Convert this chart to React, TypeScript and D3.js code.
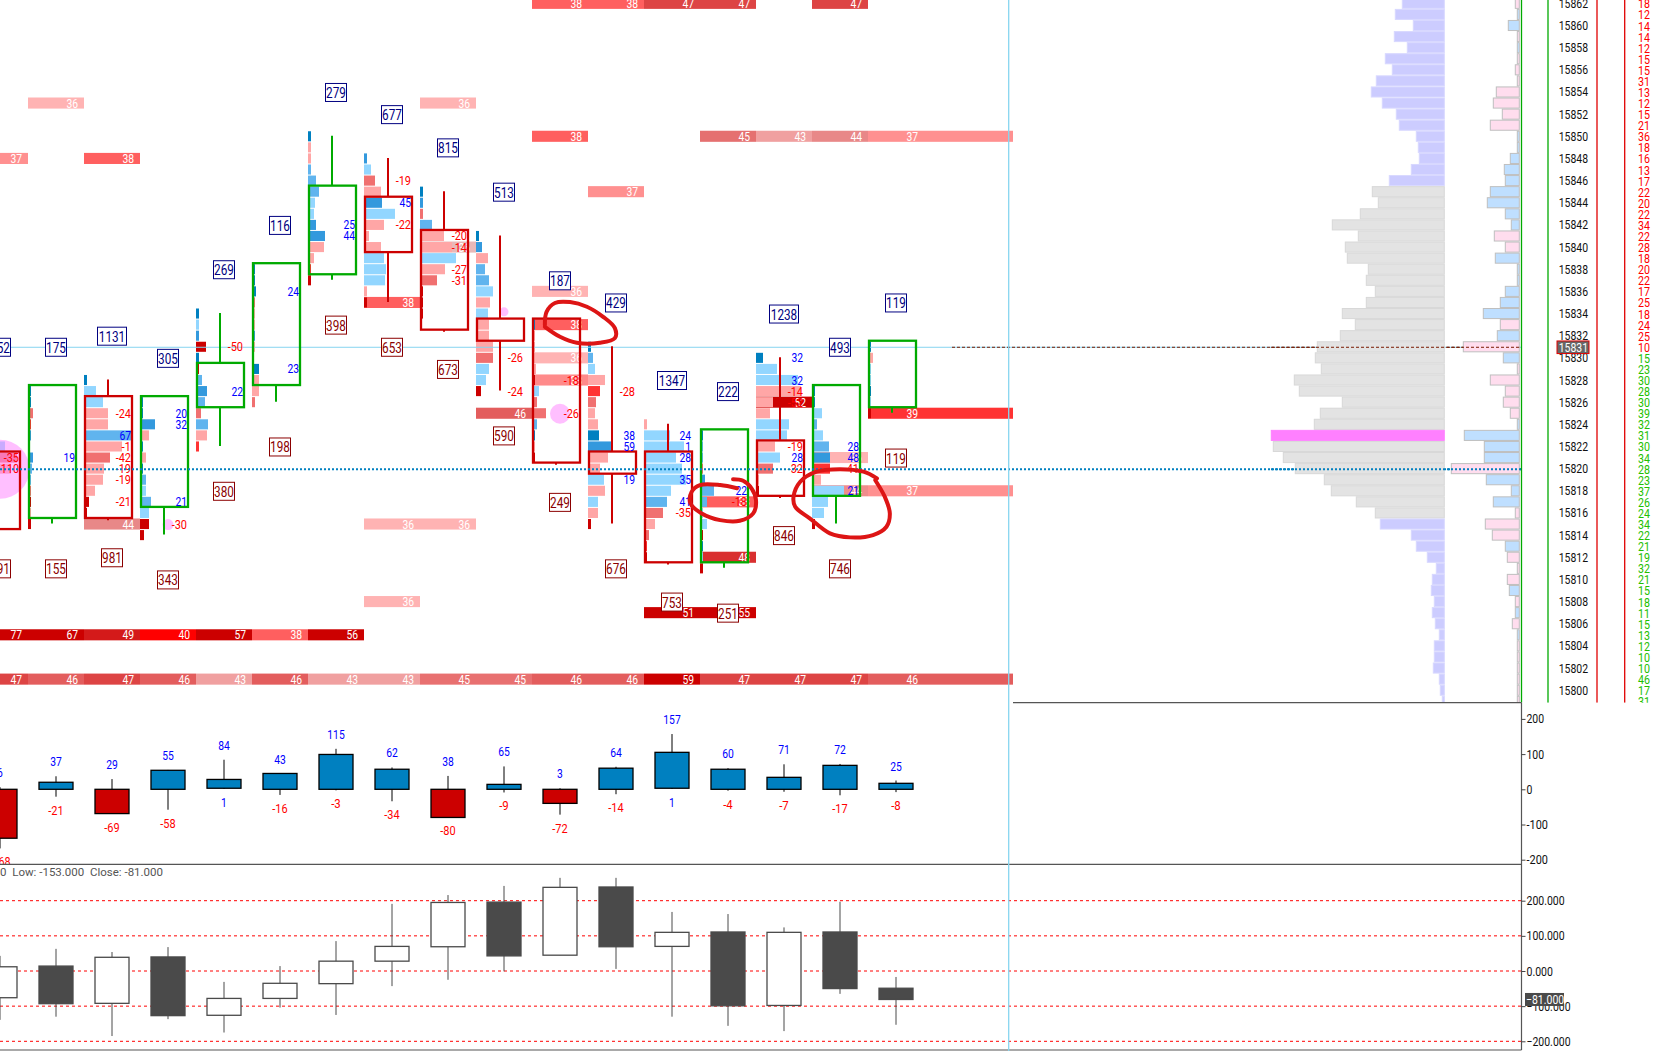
import React, { useEffect, useRef } from "react";
import * as d3 from "d3";

const FONT = "Roboto, sans-serif";

// footprint: one list per column, rows run downwards from fpTop
const fpTop = [15822, 15827, 15828, 15826, 15834, 15838, 15850, 15848, 15845, 15841, 15833, 15831, 15824, 15823, 15830, 15827, 15831];
const fpVol = [
  [33, 45, 39],
  [3, 3, 5, 3, 3, 2, 5, 4, 3, 3, 3, 3, 3],
  [3, 12, 19, 24, 24, 47, 38, 26, 20, 19, 11, 5, 3],
  [3, 3, 15, 9, 3, 6, 3, 6, 6, 11, 9, 9, 4],
  [3, 3, 3, 10, 3, 3, 6, 11, 9, 5, 12, 11, 3],
  [3, 3, 4, 3, 3, 3, 3, 3, 2, 7, 7, 7, 3],
  [3, 3, 3, 3, 8, 11, 7, 6, 8, 17, 16, 6, 3, 3],
  [3, 7, 11, 17, 18, 31, 20, 5, 17, 20, 22, 21, 3, 3],
  [3, 3, 3, 12, 24, 32, 36, 25, 17, 3, 3, 3, 2],
  [3, 6, 12, 9, 13, 17, 14, 12, 13, 13, 17, 17, 13, 10, 5],
  [3, 3, 3, 3, 4, 3, 7, 5, 14, 5, 3, 3, 3],
  [3, 5, 7, 17, 12, 8, 7, 10, 11, 23, 20, 12, 16, 17, 10, 10, 3],
  [3, 26, 40, 32, 38, 42, 27, 23, 19, 11, 5, 3, 3],
  [3, 3, 3, 3, 5, 14, 7, 3, 7, 3, 3, 3, 3],
  [7, 21, 42, 45, 17, 14, 33, 31, 19, 24, 17, 3, 3],
  [3, 3, 10, 5, 11, 17, 18, 18, 9, 32, 16, 12, 3],
  [3, 5, 3, 3, 3, 3, 3],
];
const fpShade = [
  "lro",
  "ddrhmlmkkrpop",
  "dllookorooopp",
  "ddmododklklpp",
  "dlmpdpkmkrkoh",
  "dddroomoldoor",
  "dookkkllmmoohp",
  "mlromlooolllop",
  "dmrkoolorpppp",
  "dmokklolooorllp",
  "dooooplrrkdop",
  "dklohroodmoololop",
  "ollllllkrorhp",
  "dkkrmkkllpdlp",
  "dllooollolrop",
  "ddlklkmholllp",
  "dolldlp",
];
const shades: Record<string, string> = {
  d: "#0080c0", m: "#3399dd", k: "#60b4ee", l: "#92d6ff",
  p: "#cc0000", h: "#ff3333", r: "#f07070", o: "#ffa6a6",
};

// candles over the footprint
const candleCols = [0, 1, 2, 3, 4, 5, 6, 7, 8, 9, 10, 11, 12, 13, 14, 15, 16];
const bodyTop = [15821.5, 15827.5, 15826.5, 15826.5, 15829.5, 15838.5, 15845.5, 15844.5, 15841.5, 15833.5, 15833.5, 15821.5, 15821.5, 15823.5, 15822.5, 15827.5, 15831.5];
const bodyBottom = [15814.5, 15815.5, 15815.5, 15816.5, 15825.5, 15827.5, 15837.5, 15839.5, 15832.5, 15831.5, 15820.5, 15819.5, 15811.5, 15811.5, 15817.5, 15817.5, 15825.5];
const wickHigh = [15821.5, 15827.5, 15828, 15826.5, 15834, 15838.5, 15850, 15848, 15845, 15841, 15833.5, 15831, 15824, 15823.5, 15830, 15827.5, 15831.5];
const wickLow = [15814.5, 15815, 15815.3, 15814, 15822, 15826, 15837, 15835, 15832.3, 15827, 15820.3, 15815, 15811.3, 15811, 15817.3, 15815, 15825];
const candleUp = [false, true, false, true, true, true, true, false, false, false, false, false, false, true, false, true, true];

// level bars: column, price, value, colour
const heatBars: [number, number, string, string][] = [
  [1, 15853, "36", "#ffb3b3"], [8, 15853, "36", "#ffb3b3"],
  [0, 15848, "37", "#ff9090"], [2, 15848, "38", "#ff5f5f"],
  [10, 15862, "38", "#ff5f5f"], [11, 15862, "38", "#ff5f5f"], [12, 15862, "47", "#dd4444"], [13, 15862, "47", "#dd4444"], [15, 15862, "47", "#dd4444"],
  [10, 15850, "38", "#ff5f5f"], [13, 15850, "45", "#e57070"], [14, 15850, "43", "#f0a0a0"], [15, 15850, "44", "#e88888"], [16, 15850, "37", "#ff9090"],
  [11, 15845, "37", "#ff9090"], [8, 15840, "36", "#e8b8b8"], [10, 15836, "36", "#ffb3b3"],
  [7, 15835, "38", "#ff5f5f"], [10, 15833, "38", "#ff5f5f"], [10, 15830, "36", "#ffb3b3"], [10, 15828, "38", "#ff8a8a"],
  [14, 15826, "52", "#cc0000"], [9, 15825, "46", "#e35d5d"], [16, 15825, "39", "#ff3333"],
  [15, 15821, "36", "#ffb3b3"], [13, 15817, "38", "#ff5f5f"], [15, 15818, "44", "#ef8c8c"], [16, 15818, "37", "#ff9090"],
  [2, 15815, "44", "#e88888"], [7, 15815, "36", "#ffb3b3"], [8, 15815, "36", "#ffb3b3"],
  [13, 15812, "48", "#d93030"], [7, 15808, "36", "#ffb3b3"],
  [12, 15807, "51", "#cc0000"], [13, 15807, "55", "#cc0000"],
  [0, 15805, "77", "#cc0000"], [1, 15805, "67", "#cc0000"], [2, 15805, "49", "#d41a1a"], [3, 15805, "40", "#ff0000"], [4, 15805, "57", "#cc0000"], [5, 15805, "38", "#ff5f5f"], [6, 15805, "56", "#cc0000"],
  [0, 15801, "47", "#dd4444"], [1, 15801, "46", "#e35d5d"], [2, 15801, "47", "#dd4444"], [3, 15801, "46", "#e35d5d"], [4, 15801, "43", "#f0a0a0"], [5, 15801, "46", "#e35d5d"], [6, 15801, "43", "#f0a0a0"], [7, 15801, "43", "#f0a0a0"], [8, 15801, "45", "#e87070"], [9, 15801, "45", "#e87070"], [10, 15801, "46", "#e35d5d"], [11, 15801, "46", "#e35d5d"], [12, 15801, "59", "#cc0000"], [13, 15801, "47", "#dd4444"], [14, 15801, "47", "#dd4444"], [15, 15801, "47", "#dd4444"], [16, 15801, "46", "#e35d5d"],
];

// numbers inside the footprint: column, price, text
const deltaLabels: [number, number, string][] = [
  [0, 15821, "-35"], [0, 15820, "-110"], [1, 15821, "19"],
  [2, 15825, "-24"], [2, 15823, "67"], [2, 15822, "-1"], [2, 15821, "-42"], [2, 15820, "-19"], [2, 15819, "-19"], [2, 15817, "-21"],
  [3, 15825, "20"], [3, 15824, "32"], [3, 15817, "21"], [3, 15815, "-30"],
  [4, 15831, "-50"], [4, 15827, "22"], [5, 15836, "24"], [5, 15829, "23"], [6, 15842, "25"], [6, 15841, "44"],
  [7, 15846, "-19"], [7, 15844, "45"], [7, 15842, "-22"],
  [8, 15841, "-20"], [8, 15840, "-14"], [8, 15838, "-27"], [8, 15837, "-31"],
  [9, 15830, "-26"], [9, 15827, "-24"], [10, 15828, "-18"], [10, 15825, "-26"],
  [11, 15827, "-28"], [11, 15823, "38"], [11, 15822, "59"], [11, 15819, "19"],
  [12, 15823, "24"], [12, 15822, "1"], [12, 15821, "28"], [12, 15819, "35"], [12, 15817, "41"], [12, 15816, "-35"],
  [13, 15818, "22"], [13, 15817, "-18"],
  [14, 15830, "32"], [14, 15828, "32"], [14, 15827, "-14"], [14, 15826, "-52"], [14, 15822, "-19"], [14, 15821, "28"], [14, 15820, "-32"],
  [15, 15822, "28"], [15, 15821, "48"], [15, 15820, "-41"], [15, 15818, "21"],
];

// boxed totals above and below each candle
const topBoxPrice = [15831, 15831, 15832, 15830, 15838, 15842, 15854, 15852, 15849, 15845, 15837, 15835, 15828, 15827, 15834, 15831, 15835];
const topBoxText = ["252", "175", "1131", "305", "269", "116", "279", "677", "815", "513", "187", "429", "1347", "222", "1238", "493", "119"];
const lowBoxPrice = [15811, 15811, 15812, 15810, 15818, 15822, 15833, 15831, 15829, 15823, 15817, 15811, 15808, 15807, 15814, 15811, 15821];
const lowBoxText = ["491", "155", "981", "343", "380", "198", "398", "653", "673", "590", "249", "676", "753", "251", "846", "746", "119"];

// pink bubbles: column, price, radius
const bubbles: [number, number, number][] = [[0.5, 15820, 29.5], [3.5, 15815, 5.5], [9.5, 15834.2, 4.5], [10.5, 15825, 10]];

// hand drawn rings: column position, price
const rings: [number, number][][] = [
  [[10.23, 15833], [10.26, 15834.2], [10.41, 15835], [10.68, 15835.08], [10.98, 15834.66], [11.27, 15833.75], [11.48, 15832.73], [11.48, 15831.83], [11.21, 15831.41], [10.8, 15831.41], [10.5, 15831.95], [10.23, 15832.85]],
  [[13.59, 15819.08], [13.77, 15818.95], [13.92, 15818.27], [14, 15817.21], [13.95, 15816.01], [13.71, 15815.34], [13.36, 15815.4], [13.03, 15816], [12.83, 15816.9], [12.85, 15817.95], [13, 15818.56], [13.36, 15818.56], [13.66, 15818.27]],
  [[16.16, 15819.17], [15.92, 15819.77], [15.5, 15820], [15.08, 15819.77], [14.79, 15818.86], [14.67, 15817.5], [14.7, 15816.6], [14.96, 15815.56], [15.32, 15814.2], [15.68, 15813.84], [16.09, 15814.05], [16.33, 15814.8], [16.39, 15816], [16.3, 15817.5], [16.13, 15819]],
];

// volume profile, 15862 downwards to 15799
const profilePrices = d3.range(15862, 15798, -1);
const profileVol = [42, 49, 31, 50, 37, 59, 52, 68, 73, 62, 48, 45, 28, 26, 25, 33, 55, 72, 66, 84, 112, 86, 99, 97, 76, 78, 69, 78, 102, 89, 104, 127, 129, 123, 150, 145, 102, 124, 130, 173, 171, 161, 149, 120, 113, 88, 69, 64, 33, 28, 17, 8, 12, 13, 10, 12, 9, 5, 10, 10, 11, 5, 4, 2];
const vaHigh = 15845;
const vaLow = 15816;
const pocPrice = 15823;
const profileDelta = [-4, 2, 11, -2, 2, -2, -4, -2, -23, -26, -17, -29, 2, 2, 9, 15, 14, 29, 32, 14, 8, -25, -14, 24, 2, 2, 14, 19, 36, -19, 22, -56, 16, -2, -29, -14, -16, -9, 2, 55, 35, 35, -68, 33, 8, 26, -4, -34, -27, 14, -12, -2, -12, 10, -4, 4, -7, 2, -2, -2, -2, -2, -2, -2];
const sideCounts = [18, 12, 14, 14, 12, 15, 15, 31, 13, 12, 15, 21, 36, 18, 16, 13, 17, 22, 20, 22, 34, 22, 28, 18, 20, 22, 17, 25, 18, 24, 25, 10, 15, 23, 30, 28, 30, 39, 32, 31, 30, 34, 28, 23, 37, 26, 24, 34, 22, 21, 19, 32, 21, 15, 18, 11, 15, 13, 12, 10, 10, 46, 17, 31];
const lastPrice = 15831;
const dottedPrice = 15820;
const priceTicks = d3.range(15800, 15864, 2);

// middle panel
const midOpen = [0, 0, 0, 0, 3, 0, 0, 0, 0, 0, 0, 0, 3, 0, 0, 0, 0];
const midClose = [-139, 20, -69, 54, 28, 45, 99, 57, -80, 14, -40, 60, 105, 57, 34, 68, 17];
const midHigh = [6, 37, 29, 55, 84, 43, 115, 62, 38, 65, 3, 64, 157, 60, 71, 72, 25];
const midLow = [-168, -21, -69, -58, 1, -16, -3, -34, -80, -9, -72, -14, 1, -4, -7, -17, -8];
const midTicks = [200, 100, 0, -100, -200];

// lower panel
const lowOpen = [-76, 14, -92, 40, -126, -78, -36, 28, 69, 196, 45, 239, 70, 111, -98, 111, -49];
const lowClose = [12, -93, 39, -127, -78, -35, 28, 70, 195, 43, 238, 69, 110, -99, 110, -50, -81];
const lowHigh = [43, 63, 54, 68, -31, 14, 85, 191, 216, 242, 265, 265, 168, 162, 124, 197, -17];
const lowLow = [-139, -130, -185, -137, -175, -104, -125, -43, -25, -1, 45, 6, -130, -156, -171, -65, -153];
const lowTicks = [200, 100, 0, -100, -200];
const lastClose = -81;

// the original font is narrower than anything installed, so squeeze the glyphs to its width
const textWidth = (t: string, digit: number) =>
  Array.from(t).reduce((sum, ch) => sum + (ch === "-" ? 0.65 * digit : ch === "." ? 0.5 * digit : digit), 0);

export default function App() {
  const svgRef = useRef<SVGSVGElement>(null);

  useEffect(() => {
    if (!svgRef.current) return;
    const svg = d3.select(svgRef.current);
    svg.selectAll("*").remove();
    svg.style("font-family", FONT);

    const W = 1654, H = 1051;
    const panelRight = 1521.5, priceBottom = 702.7, midBottom = 864.3, lowBottom = 1050, heatEnd = 1013;

    const defs = svg.append("defs");
    defs.append("clipPath").attr("id", "pricePanel").append("rect").attr("width", W).attr("height", priceBottom);
    defs.append("clipPath").attr("id", "midPanel").append("rect").attr("y", priceBottom).attr("width", W).attr("height", midBottom - priceBottom);
    const plot = svg.append("g").attr("clip-path", "url(#pricePanel)");

    const xCol = d3.scaleLinear().domain([0, 1]).range([-28, 28]);
    const y = d3.scaleLinear().domain([15800, 15860]).range([690.7, 26]);
    const yMid = d3.scaleLinear().domain([-200, 200]).range([859.7, 718.9]);
    const yLow = d3.scaleLinear().domain([-200, 200]).range([1041.3, 900.7]);
    const rowH = y(15800) - y(15801);

    const label = (g: any, x: number, yy: number, t: string, size: number, digit: number, fill: string, anchor = "start") =>
      g.append("text").attr("x", x).attr("y", yy).attr("text-anchor", anchor)
        .attr("textLength", textWidth(t, digit)).attr("lengthAdjust", "spacingAndGlyphs")
        .style("font-size", `${size}px`).attr("fill", fill).text(t);

    // heat level bars
    heatBars.forEach(([col, price, text, color]) => {
      const x0 = xCol(col);
      const x1 = col === 16 ? heatEnd : xCol(col + 1);
      plot.append("rect").attr("x", x0).attr("y", y(price + 0.5) - 0.5).attr("width", x1 - x0).attr("height", rowH).attr("fill", color);
      label(plot, xCol(col + 1) - 6, y(price) + 4, text, 13, 5.8, "#fff", "end");
    });

    // footprint rows
    fpVol.forEach((list, col) => {
      list.forEach((w, i) => {
        plot.append("rect").attr("x", xCol(col)).attr("y", y(fpTop[col] - i + 0.5)).attr("width", w).attr("height", rowH - 1)
          .attr("fill", shades[fpShade[col][i]]);
      });
    });

    // bubbles
    bubbles.forEach(([c, p, r]) => {
      plot.append("circle").attr("cx", xCol(c)).attr("cy", y(p)).attr("r", r).attr("fill", "#ff80ff").attr("opacity", 0.5);
    });

    // horizontal price lines
    plot.append("line").attr("x1", 0).attr("x2", panelRight).attr("y1", y(lastPrice)).attr("y2", y(lastPrice)).attr("stroke", "#87d5f0").attr("stroke-width", 1);
    plot.append("line").attr("x1", 952).attr("x2", panelRight).attr("y1", y(lastPrice)).attr("y2", y(lastPrice)).attr("stroke", "#7a1a00").attr("stroke-dasharray", "3,2");

    // candles, wicks stop at the hollow body
    candleCols.forEach((c, i) => {
      const color = candleUp[i] ? "#00aa00" : "#cc0000";
      const left = xCol(c);
      [[wickHigh[i], bodyTop[i]], [bodyBottom[i], wickLow[i]]].forEach(([a, b]) => {
        plot.append("line").attr("x1", left + 24).attr("x2", left + 24).attr("y1", y(a) - 1).attr("y2", y(b) - 1).attr("stroke", color).attr("stroke-width", 2);
      });
      plot.append("rect").attr("x", left + 1).attr("y", y(bodyTop[i]) - 1).attr("width", 47).attr("height", y(bodyBottom[i]) - y(bodyTop[i]))
        .attr("fill", "none").attr("stroke", color).attr("stroke-width", 2.3);
    });

    // numbers in the footprint
    deltaLabels.forEach(([c, p, t]) => {
      label(plot, xCol(c) + 47, y(p) + 4, t, 13, 5.8, t.startsWith("-") ? "#ff0000" : "#0000ff", "end");
    });

    plot.append("line").attr("x1", 0).attr("x2", panelRight).attr("y1", y(dottedPrice)).attr("y2", y(dottedPrice))
      .attr("stroke", "#0080c0").attr("stroke-width", 2).attr("stroke-dasharray", "2,2");

    // boxed totals
    const box = (col: number, price: number, text: string, color: string) => {
      const w = text.length > 3 ? 29 : 21;
      const cx = xCol(col) + 28;
      plot.append("rect").attr("x", cx - w / 2).attr("y", y(price) - 9).attr("width", w).attr("height", 18).attr("fill", "#fff").attr("stroke", color).attr("stroke-width", 1);
      label(plot, cx, y(price) + 5.5, text, 15.5, 6.6, color, "middle");
    };
    topBoxText.forEach((t, i) => box(i, topBoxPrice[i], t, "#000080"));
    lowBoxText.forEach((t, i) => box(i, lowBoxPrice[i], t, "#8b0000"));

    // hand drawn rings
    const ringLine = d3.line<[number, number]>().x(d => xCol(d[0])).y(d => y(d[1])).curve(d3.curveCatmullRom.alpha(0.5));
    rings.forEach(r => {
      plot.append("path").attr("d", ringLine(r)).attr("fill", "none").attr("stroke", "#dd1515").attr("stroke-width", 4).attr("stroke-linecap", "round");
    });

    // volume profile
    const xProfile = d3.scaleLinear().domain([0, 173]).range([1444.3, 1271.3]);
    profilePrices.forEach((p, i) => {
      const inVA = p <= vaHigh && p >= vaLow;
      const isPoc = p === pocPrice;
      plot.append("rect").attr("x", xProfile(profileVol[i])).attr("y", y(p + 0.5)).attr("width", xProfile(0) - xProfile(profileVol[i])).attr("height", rowH - 1)
        .attr("fill", isPoc ? "#ff80ff" : inVA ? "#e3e3e3" : "#ccccff")
        .attr("stroke", isPoc ? "#ff80ff" : inVA ? "#d8d8d8" : "#d8d8ff").attr("stroke-width", 1);
    });

    // delta profile
    const xDelta = d3.scaleLinear().domain([0, 68]).range([1519.3, 1451.3]);
    profilePrices.forEach((p, i) => {
      const v = profileDelta[i];
      plot.append("rect").attr("x", xDelta(Math.abs(v))).attr("y", y(p + 0.5)).attr("width", xDelta(0) - xDelta(Math.abs(v))).attr("height", rowH - 1)
        .attr("fill", v > 0 ? "#bfdfff" : "#ffddee").attr("stroke", "#bfbfbf").attr("stroke-width", 1);
    });
    plot.append("line").attr("x1", 1271).attr("x2", panelRight).attr("y1", y(dottedPrice)).attr("y2", y(dottedPrice))
      .attr("stroke", "#0080c0").attr("stroke-width", 2).attr("stroke-dasharray", "2,2");
    plot.append("line").attr("x1", 1271).attr("x2", panelRight).attr("y1", y(lastPrice)).attr("y2", y(lastPrice)).attr("stroke", "#7a1a00").attr("stroke-dasharray", "3,2");

    // price scale and the side counts
    [[panelRight, "#00aa00"], [1548, "#00aa00"], [1597, "#e00000"], [1624.7, "#e00000"]].forEach(([x, c]) => {
      plot.append("line").attr("x1", x as number).attr("x2", x as number).attr("y1", 0).attr("y2", priceBottom).attr("stroke", c as string).attr("stroke-width", 1.3);
    });
    priceTicks.forEach(p => {
      label(plot, 1558.7, y(p) + 4, `${p}`, 12.5, 5.87, "#111");
    });
    plot.append("rect").attr("x", 1557).attr("y", y(lastPrice) - 6.3).attr("width", 32).attr("height", 12.6).attr("fill", "#666").attr("stroke", "#e00000").attr("stroke-width", 1);
    label(plot, 1558.7, y(lastPrice) + 4.5, `${lastPrice}`, 12.5, 5.87, "#fff");
    profilePrices.forEach((p, i) => {
      label(plot, 1644, y(p) + 4.5, `${sideCounts[i]}`, 13.5, 6, p >= lastPrice ? "#ff0000" : "#22c000", "middle");
    });

    // middle panel candles
    const mid = svg.append("g").attr("clip-path", "url(#midPanel)");
    candleCols.forEach((c, i) => {
      const cx = xCol(c) + 28;
      mid.append("line").attr("x1", cx).attr("x2", cx).attr("y1", yMid(midHigh[i])).attr("y2", yMid(midLow[i])).attr("stroke", "#000").attr("stroke-width", 1);
      const top = Math.max(midOpen[i], midClose[i]), bot = Math.min(midOpen[i], midClose[i]);
      mid.append("rect").attr("x", cx - 17).attr("y", yMid(top)).attr("width", 34).attr("height", yMid(bot) - yMid(top))
        .attr("fill", midClose[i] >= midOpen[i] ? "#0080c0" : "#cc0000").attr("stroke", "#000").attr("stroke-width", 1.3);
      label(mid, cx, yMid(midHigh[i]) - 10, `${midHigh[i]}`, 12, 5.8, "#0000ff", "middle");
      label(mid, cx, yMid(midLow[i]) + 18, `${midLow[i]}`, 12, 5.8, midLow[i] < 0 ? "#ff0000" : "#0000ff", "middle");
    });

    // lower panel
    lowTicks.forEach(v => {
      svg.append("line").attr("x1", 0).attr("x2", panelRight).attr("y1", yLow(v)).attr("y2", yLow(v)).attr("stroke", "#ff0000").attr("stroke-dasharray", "3,3");
    });
    candleCols.forEach((c, i) => {
      const cx = xCol(c) + 28;
      const up = lowClose[i] >= lowOpen[i];
      const top = Math.max(lowOpen[i], lowClose[i]), bot = Math.min(lowOpen[i], lowClose[i]);
      svg.append("line").attr("x1", cx).attr("x2", cx).attr("y1", yLow(lowHigh[i])).attr("y2", yLow(lowLow[i])).attr("stroke", "#4a4a4a").attr("stroke-width", 1);
      svg.append("rect").attr("x", cx - 17).attr("y", yLow(top)).attr("width", 34).attr("height", yLow(bot) - yLow(top))
        .attr("fill", up ? "#fff" : "#4a4a4a").attr("stroke", "#4a4a4a").attr("stroke-width", 1.3);
    });
    svg.append("text").attr("x", 163).attr("y", 876).attr("text-anchor", "end").style("font-size", "11.5px").style("white-space", "pre").attr("fill", "#555")
      .text("High: -17.000  Low: -153.000  Close: -81.000");

    // frame
    const frame = "#555";
    svg.append("line").attr("x1", heatEnd).attr("x2", panelRight).attr("y1", priceBottom).attr("y2", priceBottom).attr("stroke", frame).attr("stroke-width", 1.2);
    svg.append("line").attr("x1", 0).attr("x2", panelRight).attr("y1", midBottom).attr("y2", midBottom).attr("stroke", frame).attr("stroke-width", 1.2);
    svg.append("line").attr("x1", 0).attr("x2", panelRight).attr("y1", lowBottom).attr("y2", lowBottom).attr("stroke", frame).attr("stroke-width", 1.2);
    svg.append("line").attr("x1", panelRight).attr("x2", panelRight).attr("y1", priceBottom).attr("y2", lowBottom).attr("stroke", frame).attr("stroke-width", 1.2);
    svg.append("line").attr("x1", 1008.7).attr("x2", 1008.7).attr("y1", 0).attr("y2", H).attr("stroke", "#87d5f0").attr("stroke-width", 1.3);

    // right hand axes of the lower panels
    const midAxis = svg.append("g").attr("transform", `translate(${panelRight},0)`)
      .call(d3.axisRight(yMid).tickValues(midTicks).tickSize(4).tickPadding(1).tickFormat(d => `${d}`));
    const lowAxis = svg.append("g").attr("transform", `translate(${panelRight},0)`)
      .call(d3.axisRight(yLow).tickValues(lowTicks).tickSize(4).tickPadding(1).tickFormat(d => d3.format(".3f")(Number(d))));
    [midAxis, lowAxis].forEach(a => {
      a.select(".domain").remove();
      a.selectAll("line").attr("stroke", "#444");
      a.selectAll("text").attr("fill", "#111").style("font-size", "12.5px").style("font-family", FONT)
        .each(function () {
          const el = d3.select(this);
          el.attr("textLength", textWidth(el.text(), 5.87)).attr("lengthAdjust", "spacingAndGlyphs");
        });
    });
    svg.append("rect").attr("x", 1525).attr("y", yLow(lastClose) - 6.5).attr("width", 39).attr("height", 13).attr("fill", "#4a4a4a");
    label(svg, 1526, yLow(lastClose) + 4.5, d3.format(".3f")(lastClose), 12.5, 5.87, "#fff");
  }, []);

  return (
    <div style={{ position: "fixed", left: 0, top: 0, width: 1654, height: 1051, background: "#fff", overflow: "hidden" }}>
      <svg ref={svgRef} width={1654} height={1051} style={{ display: "block" }}></svg>
    </div>
  );
}
